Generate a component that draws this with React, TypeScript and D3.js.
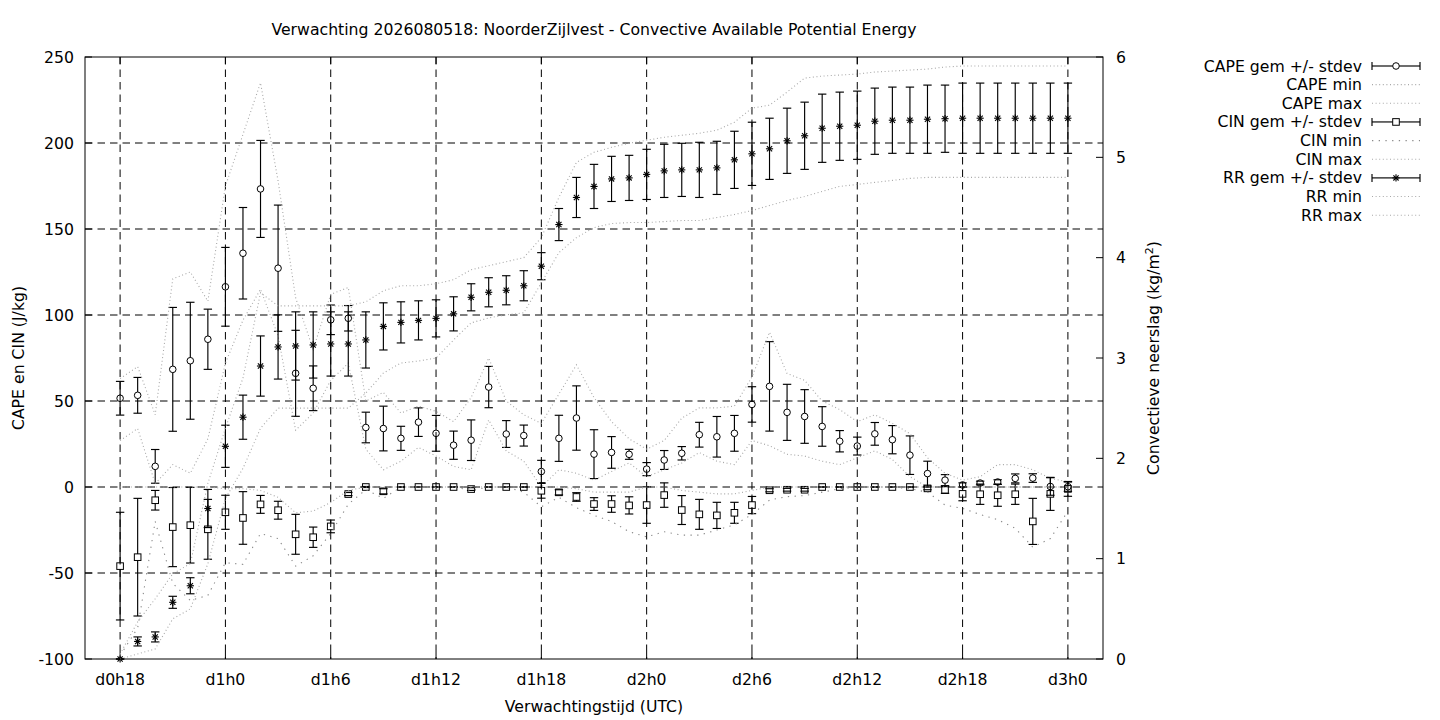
import React from "react";
import * as d3 from "d3";

const HOURS = [18,19,20,21,22,23,24,25,26,27,28,29,30,31,32,33,34,35,36,37,38,39,40,41,42,43,44,45,46,47,48,49,50,51,52,53,54,55,56,57,58,59,60,61,62,63,64,65,66,67,68,69,70,71,72];

const X_TICKS = [18,24,30,36,42,48,54,60,66,72];
const X_TICK_LABELS = ["d0h18","d1h0","d1h6","d1h12","d1h18","d2h0","d2h6","d2h12","d2h18","d3h0"];
const Y_LEFT_TICKS = [-100,-50,0,50,100,150,200,250];
const Y_RIGHT_TICKS = [0,1,2,3,4,5,6];

const CAPE_MEAN = [51.6,53.3,12.0,68.4,73.4,85.9,116.4,135.9,173.3,127.2,66.1,57.4,97.2,98.1,34.6,34.0,28.3,37.7,31.2,24.3,27.2,58.1,30.8,29.9,9.0,28.3,40.1,19.1,20.1,19.0,10.4,15.7,19.6,30.4,29.2,31.2,48.0,58.5,43.4,41.0,35.2,26.6,23.8,30.9,27.5,18.5,7.8,4.0,1.2,2.3,2.9,5.0,5.2,0.3,0.2];
const CAPE_STD = [9.8,10.4,9.8,36.0,34.0,17.5,22.9,26.6,28.2,36.7,25.0,13.0,8.6,7.4,8.9,13.0,7.0,8.3,10.4,8.2,11.8,12.0,7.8,6.1,6.5,13.4,18.7,14.2,9.2,2.9,3.8,5.5,3.9,7.2,11.8,10.4,10.3,26.0,16.3,15.6,11.5,6.2,5.2,6.6,8.2,11.2,7.2,3.2,1.2,1.1,1.3,2.6,2.5,5.1,2.7];
const CAPE_MIN = [27,34,2,13,8,28,72,97,115,88,33,43,62,72,22,10,15,23,18,12,10,39,21,15,0,10,8,4,9,14,6,10,14,20,15,13,27,24,19,18,15,13,17,21,16,6,0,0,0,0,0,0,0,0,0];
const CAPE_MAX = [63,70,42,121,125,108,175,205,235,178,110,80,112,116,50,55,43,47,44,38,52,75,50,42,37,54,71,52,38,28,22,27,40,46,46,47,64,90,66,62,50,45,38,42,37,31,17,8,4,6,13,13,10,5,3];

const CIN_MEAN = [-46.0,-40.8,-7.7,-23.3,-22.2,-24.6,-14.7,-18.0,-10.1,-13.5,-27.5,-29.2,-22.9,-4.1,0,-2.5,0,0,0,0,-1.2,0,0,0,-2.2,-3.1,-5.8,-9.9,-9.9,-10.7,-10.5,-4.7,-13.4,-15.9,-16.5,-15.0,-10.5,-1.9,-1.6,-1.6,0,0,0,0,0,0,-0.8,-1.7,-4.0,-4.2,-4.8,-4.2,-20.0,-4.0,-1.1];
const CIN_STD = [31.3,34.2,5.7,23.0,22.0,17.4,9.9,15.3,5.2,5.2,11.6,5.9,3.7,0.9,0.3,1.5,0,0,0,0,0.8,0,0,0,4.3,1.5,2.5,3.7,4.8,5.0,10.6,7.1,8.4,8.7,7.6,6.1,5.0,0.9,0.8,0.8,0,0,0,0,0,0,0.8,2.0,4.0,5.9,6.4,5.9,13.4,9.6,4.3];
const CIN_MIN = [-98,-82,-20,-56,-66,-63,-44,-45,-27,-30,-46,-40,-27,-10,-1.5,-6.6,0,0,-0.5,0,-2,0,0,-3,-11.5,-6,-12,-16.5,-20,-26,-29,-26,-28,-28,-25,-22,-16,-7.6,-5.6,-5,-3,-1,0,0,0,-1,-3,-10.5,-12.4,-16,-19,-24,-35,-30,-14];
const CIN_MAX = [0,0,0,0,0,0,-1,-1,-2,-6,-15,-14,-9,-2,0,0,0,0,0,0,0,0,0,0,0,0,-1,-3,-3,-3,0,0,-2,-3,-4,-4,-2,0,0,0,0,0,0,0,0,0,0,0,0,0,0,0,0,0,0];

const RR_MEAN = [0,0.175,0.22,0.565,0.73,1.50,2.12,2.41,2.92,3.11,3.12,3.13,3.14,3.14,3.18,3.315,3.355,3.375,3.395,3.44,3.605,3.655,3.675,3.72,3.915,4.33,4.60,4.71,4.785,4.795,4.83,4.865,4.875,4.875,4.895,4.975,5.035,5.085,5.165,5.215,5.29,5.31,5.32,5.36,5.37,5.37,5.38,5.385,5.39,5.39,5.39,5.39,5.39,5.39,5.39];
const RR_STD = [0,0.045,0.05,0.06,0.08,0.19,0.21,0.22,0.30,0.32,0.34,0.33,0.32,0.32,0.28,0.235,0.205,0.195,0.185,0.17,0.135,0.145,0.145,0.15,0.135,0.16,0.20,0.22,0.225,0.225,0.25,0.265,0.265,0.275,0.265,0.285,0.315,0.305,0.325,0.335,0.34,0.34,0.34,0.33,0.33,0.33,0.34,0.335,0.35,0.35,0.35,0.35,0.35,0.35,0.35];
const RR_MIN = [0,0.05,0.1,0.4,0.5,0.95,1.6,1.9,2.3,2.5,2.5,2.5,2.5,2.5,2.65,2.85,2.95,2.97,3.0,3.18,3.35,3.4,3.43,3.45,3.75,4.05,4.2,4.3,4.34,4.35,4.35,4.36,4.37,4.37,4.4,4.43,4.47,4.52,4.57,4.61,4.66,4.71,4.73,4.75,4.77,4.79,4.8,4.8,4.8,4.8,4.8,4.8,4.8,4.8,4.8];
const RR_MAX = [0.05,0.37,0.6,0.85,0.95,1.75,2.3,2.8,3.65,3.52,3.52,3.52,3.52,3.52,3.56,3.67,3.72,3.72,3.74,3.78,3.88,3.92,3.96,4.0,4.2,4.6,4.95,5.05,5.1,5.14,5.17,5.2,5.22,5.24,5.27,5.35,5.49,5.52,5.65,5.79,5.81,5.82,5.83,5.85,5.86,5.87,5.88,5.9,5.91,5.91,5.91,5.91,5.91,5.91,5.91];

const LEGEND_LABELS = ["CAPE gem +/- stdev","CAPE min","CAPE max","CIN gem +/- stdev","CIN min","CIN max","RR gem +/- stdev","RR min","RR max"];

const TITLE = "Verwachting 2026080518: NoorderZijlvest - Convective Available Potential Energy";

const W = 1440, H = 720;
const L = 85, R = 1103, T = 57, B = 659;
const FONT = "DejaVu Sans";
const FS = 15.7;

type Marker = "circle" | "square" | "star";

const DOT = { stroke: "#a8a8a8", dash: "1,2.6" };
const DOT_CIN = { stroke: "#8a8a8a", dash: "1.3,5.4" };

function MarkerShape({ kind, cx, cy }: { kind: Marker; cx: number; cy: number }) {
  if (kind === "circle") return <circle cx={cx} cy={cy} r={3.3} fill="none" stroke="#000" strokeWidth={1} />;
  if (kind === "square") return <rect x={cx - 3.3} y={cy - 3.3} width={6.6} height={6.6} fill="none" stroke="#000" strokeWidth={1} />;
  const a = 3.6, b = 2.6;
  return (
    <g stroke="#000" strokeWidth={1.1}>
      <line x1={cx - a} y1={cy} x2={cx + a} y2={cy} />
      <line x1={cx} y1={cy - a} x2={cx} y2={cy + a} />
      <line x1={cx - b} y1={cy - b} x2={cx + b} y2={cy + b} />
      <line x1={cx - b} y1={cy + b} x2={cx + b} y2={cy - b} />
    </g>
  );
}

export default function App() {
  const x = d3.scaleLinear().domain([16, 74]).range([L, R]);
  const yL = d3.scaleLinear().domain([-100, 250]).range([B, T]);
  const yR = d3.scaleLinear().domain([0, 6]).range([B, T]);

  const lineFor = (scale: d3.ScaleLinear<number, number>) =>
    d3.line<number>().x((_, i) => x(HOURS[i])).y((d) => scale(d));

  const errorBars = (means: number[], stds: number[], scale: d3.ScaleLinear<number, number>, kind: Marker, key: string) => {
    const gap = kind === "star" ? 0 : 3.3;
    return (
      <g key={key}>
        {HOURS.map((h, i) => {
          const cx = x(h);
          const cy = scale(means[i]);
          const top = scale(means[i] + stds[i]);
          const bot = scale(means[i] - stds[i]);
          return (
            <g key={i}>
              <g stroke="#000" strokeWidth={1.15}>
                {top < cy - gap && <line x1={cx} y1={top} x2={cx} y2={cy - gap} />}
                {bot > cy + gap && <line x1={cx} y1={cy + gap} x2={cx} y2={bot} />}
                <line x1={cx - 4.2} y1={top} x2={cx + 4.2} y2={top} />
                <line x1={cx - 4.2} y1={bot} x2={cx + 4.2} y2={bot} />
              </g>
              <MarkerShape kind={kind} cx={cx} cy={cy} />
            </g>
          );
        })}
      </g>
    );
  };

  const dotted = (vals: number[], scale: d3.ScaleLinear<number, number>, style: { stroke: string; dash: string }, key: string) => (
    <path key={key} d={lineFor(scale)(vals) || ""} fill="none" stroke={style.stroke} strokeWidth={1.1} strokeDasharray={style.dash} />
  );

  const legendRow = (i: number) => 66 + i * 18.65;
  const lx1 = 1372, lx2 = 1420, lxm = 1396;

  const legendErr = (i: number, kind: Marker) => {
    const y = legendRow(i);
    const gap = kind === "star" ? 0 : 3.3;
    return (
      <g key={"le" + i}>
        <g stroke="#000" strokeWidth={1.15}>
          <line x1={lx1} y1={y} x2={lxm - gap} y2={y} />
          <line x1={lxm + gap} y1={y} x2={lx2} y2={y} />
          <line x1={lx1} y1={y - 4} x2={lx1} y2={y + 4} />
          <line x1={lx2} y1={y - 4} x2={lx2} y2={y + 4} />
        </g>
        <MarkerShape kind={kind} cx={lxm} cy={y} />
      </g>
    );
  };
  const legendDot = (i: number, style: { stroke: string; dash: string }) => {
    const y = legendRow(i);
    return <line key={"ld" + i} x1={lx1} y1={y} x2={lx2} y2={y} stroke={style.stroke} strokeWidth={1.1} strokeDasharray={style.dash} />;
  };

  return (
    <div style={{ position: "absolute", left: 0, top: 0 }}>
      <svg width={W} height={H} viewBox={`0 0 ${W} ${H}`} style={{ display: "block" }} fontFamily={FONT}>
        <rect x={0} y={0} width={W} height={H} fill="#fff" />

        {/* grid */}
        <g stroke="#000" strokeWidth={1} strokeDasharray="7.5,5">
          {X_TICKS.map((t) => (
            <line key={"gx" + t} x1={x(t)} y1={T} x2={x(t)} y2={B} />
          ))}
          {Y_LEFT_TICKS.filter((t) => t > -100 && t < 250).map((t) => (
            <line key={"gy" + t} x1={L} y1={yL(t)} x2={R} y2={yL(t)} />
          ))}
        </g>

        {/* ticks */}
        <g stroke="#000" strokeWidth={1}>
          {X_TICKS.map((t) => (
            <g key={"tx" + t}>
              <line x1={x(t)} y1={B} x2={x(t)} y2={B - 7} />
              <line x1={x(t)} y1={T} x2={x(t)} y2={T + 7} />
            </g>
          ))}
          {Y_LEFT_TICKS.map((t) => (
            <line key={"tl" + t} x1={L} y1={yL(t)} x2={L + 7} y2={yL(t)} />
          ))}
          {Y_RIGHT_TICKS.map((t) => (
            <line key={"tr" + t} x1={R} y1={yR(t)} x2={R - 7} y2={yR(t)} />
          ))}
        </g>

        {/* series */}
        {errorBars(CAPE_MEAN, CAPE_STD, yL, "circle", "cape")}
        {dotted(CAPE_MIN, yL, DOT, "capemin")}
        {dotted(CAPE_MAX, yL, DOT, "capemax")}
        {errorBars(CIN_MEAN, CIN_STD, yL, "square", "cin")}
        {dotted(CIN_MIN, yL, DOT_CIN, "cinmin")}
        {dotted(CIN_MAX, yL, DOT, "cinmax")}
        {errorBars(RR_MEAN, RR_STD, yR, "star", "rr")}
        {dotted(RR_MIN, yR, DOT, "rrmin")}
        {dotted(RR_MAX, yR, DOT, "rrmax")}

        {/* border */}
        <rect x={L} y={T} width={R - L} height={B - T} fill="none" stroke="#000" strokeWidth={1} />

        {/* tick labels */}
        <g fontSize={FS} fill="#000">
          {X_TICKS.map((t, i) => (
            <text key={"xl" + t} x={x(t)} y={685} textAnchor="middle">{X_TICK_LABELS[i]}</text>
          ))}
          {Y_LEFT_TICKS.map((t) => (
            <text key={"yl" + t} x={74} y={yL(t) + 5.5} textAnchor="end">{t}</text>
          ))}
          {Y_RIGHT_TICKS.map((t) => (
            <text key={"yr" + t} x={1116} y={yR(t) + 5.5} textAnchor="start">{t}</text>
          ))}
        </g>

        {/* titles */}
        <g fontSize={FS} fill="#000">
          <text x={(L + R) / 2} y={34.5} textAnchor="middle">{TITLE}</text>
          <text x={(L + R) / 2} y={711.5} textAnchor="middle">Verwachtingstijd (UTC)</text>
          <text transform={`translate(23.5,${(T + B) / 2}) rotate(-90)`} textAnchor="middle">CAPE en CIN (J/kg)</text>
          <text transform={`translate(1159,${(T + B) / 2}) rotate(-90)`} textAnchor="middle">
            Convectieve neerslag (kg/m<tspan dy={-6} fontSize={11}>2</tspan><tspan dy={6}>)</tspan>
          </text>
        </g>

        {/* legend */}
        <g fontSize={FS} fill="#000">
          {LEGEND_LABELS.map((lab, i) => (
            <text key={"lt" + i} x={1362} y={legendRow(i) + 5.5} textAnchor="end">{lab}</text>
          ))}
        </g>
        {legendErr(0, "circle")}
        {legendDot(1, DOT)}
        {legendDot(2, DOT)}
        {legendErr(3, "square")}
        {legendDot(4, DOT_CIN)}
        {legendDot(5, DOT)}
        {legendErr(6, "star")}
        {legendDot(7, DOT)}
        {legendDot(8, DOT)}
      </svg>
    </div>
  );
}
